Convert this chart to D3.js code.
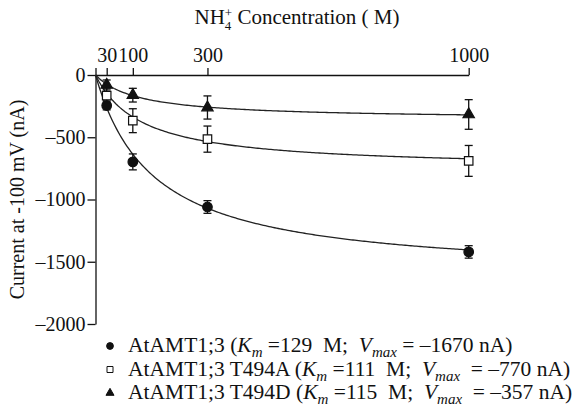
<!DOCTYPE html>
<html>
<head>
<meta charset="utf-8">
<script src="https://cdn.jsdelivr.net/npm/d3@7"></script>
<style>
  body { margin: 0; background: #fff; }
  svg, svg text { font-family: 'Liberation Serif', 'Tinos', 'Times New Roman', 'DejaVu Serif', serif; }
  .axis path, .axis line { stroke: #111; stroke-width: 1.3; }
  .axis text { font-size: 20px; fill: #111; }
  .fit { fill: none; stroke: #222; stroke-width: 1.3; }
  .err { stroke: #111; stroke-width: 1.3; }
  .legend text { white-space: pre; }
</style>
</head>
<body>
<svg id="chart" width="588" height="416"></svg>
<script>
  // measured concentrations (uM)
  const concentrations = [30, 100, 300, 1000];
  const xTicks = [0, 30, 100, 300, 1000];
  const yTicks = [0, -500, -1000, -1500, -2000];

  // mean currents and error bars (nA)
  const wtCurrent = [-245, -698, -1060, -1421];
  const wtError = [35, 64, 51, 50];
  const t494aCurrent = [-165, -367, -515, -690];
  const t494aError = [60, 96, 105, 124];
  const t494dCurrent = [-80, -162, -261, -317];
  const t494dError = [40, 55, 93, 119];

  // Michaelis-Menten fit drawn through each series
  const fitKm = [155, 124, 115];
  const fitVmax = [-1623, -756, -357];

  // legend
  const seriesNames = ['AtAMT1;3', 'AtAMT1;3 T494A', 'AtAMT1;3 T494D'];
  const legendKm = [129, 111, 115];
  const legendVmax = [-1670, -770, -357];

  const series = [
    { current: wtCurrent, error: wtError, symbol: d3.symbolCircle, size: 72, fill: '#111' },
    { current: t494aCurrent, error: t494aError, symbol: d3.symbolSquare, size: 72, fill: '#fff' },
    { current: t494dCurrent, error: t494dError, symbol: d3.symbolTriangle, size: 56, fill: '#111' },
  ];

  const svg = d3.select('#chart');

  const x = d3.scaleLinear()
    .domain([0, 1000])
    .range([95.5, 468.7]);
  const y = d3.scaleLinear()
    .domain([-2000, 0])
    .range([324, 75]);

  const dash = (v) => String(v).replace('-', '\u2013');

  svg.append('g')
    .attr('class', 'axis')
    .attr('transform', `translate(0,${y(0)})`)
    .call(d3.axisTop(x)
      .tickValues(xTicks)
      .tickSize(7)
      .tickSizeOuter(0)
      .tickPadding(6)
      .tickFormat((d) => d === 0 ? '' : d));

  svg.append('g')
    .attr('class', 'axis')
    .attr('transform', `translate(${x(0)},0)`)
    .call(d3.axisLeft(y)
      .tickValues(yTicks)
      .tickSize(8)
      .tickSizeOuter(0)
      .tickPadding(2)
      .tickFormat(dash));

  svg.selectAll('.axis').attr('font-family', null);

  // title on top
  const title = svg.append('text')
    .attr('x', 297)
    .attr('y', 24)
    .attr('text-anchor', 'middle')
    .attr('font-size', 21)
    .attr('fill', '#111');
  title.append('tspan').text('NH');
  title.append('tspan').attr('font-size', 13).attr('dy', 6).text('4');
  title.append('tspan').attr('font-size', 13).attr('dx', -6.5).attr('dy', -13).text('+');
  title.append('tspan').attr('dy', 7).text(' Concentration ( M)');

  svg.append('text')
    .attr('transform', `translate(24,${(y(0) + y(-2000)) / 2}) rotate(-90)`)
    .attr('text-anchor', 'middle')
    .attr('font-size', 20)
    .attr('fill', '#111')
    .text('Current at -100 mV (nA)');

  // fitted curves
  const curveX = d3.range(0, 1001, 5);
  const line = d3.line()
    .x((d) => x(d[0]))
    .y((d) => y(d[1]));

  svg.append('g')
    .selectAll('path')
    .data(fitKm)
    .enter()
      .append('path')
      .classed('fit', true)
      .attr('d', (km, i) => line(curveX.map((c) => [c, fitVmax[i] * c / (km + c)])));

  // error bars and markers
  const groups = svg.append('g')
    .selectAll('g')
    .data(series)
    .enter()
      .append('g');

  groups.each(function (s) {
    const g = d3.select(this);
    const pts = concentrations.map((c, i) => ({ c, v: s.current[i], e: s.error[i] }));
    g.selectAll('line.stem')
      .data(pts)
      .enter()
        .append('line')
        .attr('class', 'err stem')
        .attr('x1', (d) => x(d.c))
        .attr('x2', (d) => x(d.c))
        .attr('y1', (d) => y(d.v - d.e))
        .attr('y2', (d) => y(d.v + d.e));
    [-1, 1].forEach((sign) => {
      g.selectAll(null)
        .data(pts)
        .enter()
          .append('line')
          .attr('class', 'err')
          .attr('x1', (d) => x(d.c) - 4)
          .attr('x2', (d) => x(d.c) + 4)
          .attr('y1', (d) => y(d.v + sign * d.e))
          .attr('y2', (d) => y(d.v + sign * d.e));
    });
    g.selectAll('path')
      .data(pts)
      .enter()
        .append('path')
        .attr('d', d3.symbol().type(s.symbol).size(s.size))
        .attr('transform', (d) => `translate(${x(d.c)},${y(d.v)})`)
        .attr('fill', s.fill)
        .attr('stroke', '#111')
        .attr('stroke-width', 1.2);
  });

  // legend
  const legend = svg.append('g')
    .attr('class', 'legend')
    .selectAll('g')
    .data(seriesNames)
    .enter()
      .append('g')
      .attr('transform', (d, i) => `translate(0,${352 + i * 23.5})`);

  legend.append('path')
    .attr('d', (d, i) => d3.symbol().type(series[i].symbol).size(series[i].size * 0.5)())
    .attr('transform', 'translate(110,-6)')
    .attr('fill', (d, i) => series[i].fill)
    .attr('stroke', '#111')
    .attr('stroke-width', 1);

  const label = legend.append('text')
    .attr('x', 128)
    .attr('font-size', 21.5)
    .attr('fill', '#111');
  label.append('tspan').text((d) => d + ' (');
  label.append('tspan').attr('font-style', 'italic').text('K');
  label.append('tspan').attr('font-style', 'italic').attr('font-size', 15).attr('dy', 5).text('m');
  label.append('tspan').attr('dy', -5).text((d, i) => ` =${legendKm[i]}  M;  `);
  label.append('tspan').attr('font-style', 'italic').text('V');
  label.append('tspan').attr('font-style', 'italic').attr('font-size', 15).attr('dy', 5).text('max');
  label.append('tspan').attr('dy', -5).text((d, i) => (i === 0 ? ' = ' : '  = ') + dash(legendVmax[i]) + ' nA)');
</script>
</body>
</html>
